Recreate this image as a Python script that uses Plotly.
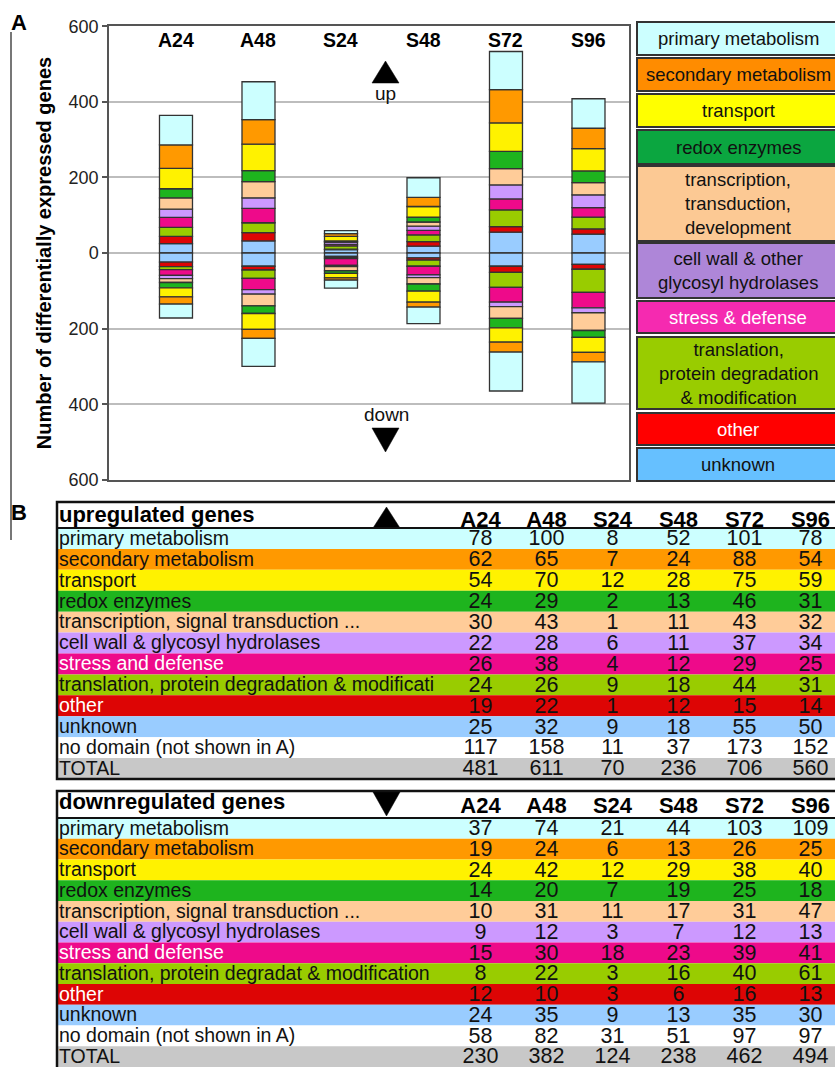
import plotly.graph_objects as go

W, H = 835, 1067
FONT = "Liberation Sans, Arial, Helvetica, sans-serif"

# ---------------- data ----------------
samples = ["A24", "A48", "S24", "S48", "S72", "S96"]

up_primary = [78, 100, 8, 52, 101, 78]
up_secondary = [62, 65, 7, 24, 88, 54]
up_transport = [54, 70, 12, 28, 75, 59]
up_redox = [24, 29, 2, 13, 46, 31]
up_transcription = [30, 43, 1, 11, 43, 32]
up_cellwall = [22, 28, 6, 11, 37, 34]
up_stress = [26, 38, 4, 12, 29, 25]
up_translation = [24, 26, 9, 18, 44, 31]
up_other = [19, 22, 1, 12, 15, 14]
up_unknown = [25, 32, 9, 18, 55, 50]
up_nodomain = [117, 158, 11, 37, 173, 152]
up_total = [481, 611, 70, 236, 706, 560]

down_primary = [37, 74, 21, 44, 103, 109]
down_secondary = [19, 24, 6, 13, 26, 25]
down_transport = [24, 42, 12, 29, 38, 40]
down_redox = [14, 20, 7, 19, 25, 18]
down_transcription = [10, 31, 11, 17, 31, 47]
down_cellwall = [9, 12, 3, 7, 12, 13]
down_stress = [15, 30, 18, 23, 39, 41]
down_translation = [8, 22, 3, 16, 40, 61]
down_other = [12, 10, 3, 6, 16, 13]
down_unknown = [24, 35, 9, 13, 35, 30]
down_nodomain = [58, 82, 31, 51, 97, 97]
down_total = [230, 382, 124, 238, 462, 494]

category_names = ["primary metabolism", "secondary metabolism", "transport",
                  "redox enzymes", "transcription, signal transduction",
                  "cell wall & glycosyl hydrolases", "stress and defense",
                  "translation, protein degradation & modification",
                  "other", "unknown"]

legend_labels = ["primary metabolism", "secondary metabolism", "transport",
                 "redox enzymes", "transcription,<br>transduction,<br>development",
                 "cell wall & other<br>glycosyl hydrolases", "stress & defense",
                 "translation,<br>protein degradation<br>& modification",
                 "other", "unknown"]

up_row_labels = ["primary metabolism", "secondary metabolism", "transport",
                 "redox enzymes", "transcription, signal transduction ...",
                 "cell wall & glycosyl hydrolases", "stress and defense",
                 "translation, protein degradation & modificati", "other",
                 "unknown", "no domain (not shown in A)", "TOTAL"]
down_row_labels = ["primary metabolism", "secondary metabolism", "transport",
                   "redox enzymes", "transcription, signal transduction ...",
                   "cell wall & glycosyl hydrolases", "stress and defense",
                   "translation, protein degradat & modification", "other",
                   "unknown", "no domain (not shown in A)", "TOTAL"]

up_values = [up_primary, up_secondary, up_transport, up_redox, up_transcription,
             up_cellwall, up_stress, up_translation, up_other, up_unknown]
down_values = [down_primary, down_secondary, down_transport, down_redox,
               down_transcription, down_cellwall, down_stress, down_translation,
               down_other, down_unknown]

# ---------------- styles ----------------
bar_colors = ["#CCFFFF", "#FF9900", "#FFF200", "#1EB41E", "#FFCC99",
              "#CC99FF", "#EE0A8A", "#99CC00", "#DD0505", "#99CCFF"]
legend_colors = ["#CCFFFF", "#FF8C00", "#FFFF00", "#0BA640", "#FCC994",
                 "#AE86D8", "#F52AB0", "#99CC00", "#FF0000", "#66C0FF"]
legend_text_colors = ["#111", "#111", "#111", "#111", "#111",
                      "#111", "#FFFFFF", "#111", "#FFFFFF", "#111"]
row_fills = bar_colors + ["#FFFFFF", "#C8C8C8"]
row_text_colors = legend_text_colors + ["#111", "#111"]

# legend box extents (top, bottom) in pixels
legend_boxes = [(22, 55), (58, 91), (94, 127), (130, 164), (166, 241),
                (243, 298), (301, 333), (337, 409), (413, 445), (448, 481)]

TEXT_DY = 0.07  # nudges table text slightly below the row centre


def px(x):
    return x / W


def py(y):
    return 1 - y / H


fig = go.Figure()
pos = list(range(len(samples)))

# ---------------- panel A: stacked up / down bars ----------------
for name, color, upv, dnv in reversed(list(zip(category_names, bar_colors,
                                                up_values, down_values))):
    style = dict(color=color, line=dict(color="#333333", width=1.3))
    fig.add_trace(go.Bar(x=pos, y=upv, name=name, marker=style, width=0.4,
                         xaxis="x", yaxis="y", hoverinfo="skip"))
    fig.add_trace(go.Bar(x=pos, y=[-v for v in dnv], name=name, marker=style,
                         width=0.4, xaxis="x", yaxis="y", hoverinfo="skip"))

# ---------------- panel B: tables ----------------
TX0, TX1 = -6.417, 5.371  # table x range in column units


def add_table(ax, labels, rows, title, title_y, head_y):
    xa, ya = "x" + ax, "y" + ax
    ridx = list(range(1, len(labels) + 1))
    tidx = [r + TEXT_DY for r in ridx]
    fig.add_trace(go.Bar(orientation="h", y=ridx, x=[TX1 - TX0 + 1] * len(ridx),
                         base=TX0, width=1,
                         marker=dict(color=row_fills, line=dict(width=0)),
                         xaxis=xa, yaxis=ya, hoverinfo="skip"))
    fig.add_trace(go.Scatter(x=[TX0 + 0.03] * len(ridx), y=tidx, text=labels,
                             mode="text", textposition="middle right",
                             textfont=dict(family=FONT, size=19.5,
                                           color=row_text_colors),
                             xaxis=xa, yaxis=ya, cliponaxis=False,
                             hoverinfo="skip"))
    xs, ys, ts = [], [], []
    for k in pos:
        for r, row in zip(tidx, rows):
            xs.append(k)
            ys.append(r)
            ts.append(str(row[k]))
    fig.add_trace(go.Scatter(x=xs, y=ys, text=ts, mode="text",
                             textposition="middle center",
                             textfont=dict(family=FONT, size=21.5, color="#111"),
                             xaxis=xa, yaxis=ya, cliponaxis=False,
                             hoverinfo="skip"))
    fig.add_trace(go.Scatter(x=pos, y=[head_y] * len(pos), text=samples,
                             mode="text", textposition="middle center",
                             textfont=dict(family=FONT, size=22, color="#000",
                                           weight="bold"),
                             xaxis=xa, yaxis=ya, cliponaxis=False,
                             hoverinfo="skip"))
    fig.add_trace(go.Scatter(x=[TX0 + 0.03], y=[title_y], text=[title],
                             mode="text", textposition="middle right",
                             textfont=dict(family=FONT, size=22, color="#000",
                                           weight="bold"),
                             xaxis=xa, yaxis=ya, cliponaxis=False,
                             hoverinfo="skip"))


add_table("2", up_row_labels, up_values + [up_nodomain, up_total],
          "upregulated genes", -0.07, 0.18)
add_table("3", down_row_labels, down_values + [down_nodomain, down_total],
          "downregulated genes", -0.22, 0.0)

hidden = dict(visible=False, fixedrange=True, automargin=False)

fig.update_layout(
    width=W, height=H,
    margin=dict(l=0, r=0, t=0, b=0, autoexpand=False),
    paper_bgcolor="white", plot_bgcolor="rgba(0,0,0,0)",
    showlegend=False, barmode="relative",
    font=dict(family=FONT, color="#111"),
    xaxis=dict(domain=[px(109), px(629)], range=[-0.812, 5.491],
               side="top", showticklabels=False, ticks="", automargin=False,
               showline=True, mirror=True, linecolor="#555", linewidth=1.5,
               showgrid=False, zeroline=False),
    yaxis=dict(domain=[py(480), py(26)], range=[-600.5, 600.5],
               tickvals=[-600, -400, -200, 0, 200, 400, 600],
               ticktext=["600", "400", "200", "0", "200", "400", "600"],
               tickfont=dict(family=FONT, size=18, color="#222"),
               ticks="outside", ticklen=5, tickcolor="#555", tickwidth=1.5,
               showline=True, mirror=True, linecolor="#555", linewidth=1.5,
               showgrid=True, gridcolor="#BDBDBD", gridwidth=1.5,
               zeroline=False, automargin=False,
               title=dict(text="Number of differentially expressed genes",
                          font=dict(family=FONT, size=20, color="#000",
                                    weight="bold"),
                          standoff=12)),
    xaxis2=dict(domain=[px(57), 1], range=[TX0, TX1], anchor="y2", **hidden),
    yaxis2=dict(domain=[py(779), py(502)], range=[12.5, -0.744], anchor="x2",
                **hidden),
    xaxis3=dict(domain=[px(57), 1], range=[TX0, TX1], anchor="y3", **hidden),
    yaxis3=dict(domain=[0, py(791)], range=[12.5, -0.8], anchor="x3", **hidden),
)

shapes = []
annotations = []

# sample names along the top of panel A
for k, s in zip(pos, samples):
    annotations.append(dict(xref="x", yref="paper", x=k, y=py(40), text=s,
                            showarrow=False, xanchor="center",
                            yanchor="middle",
                            font=dict(family=FONT, size=19.5, color="#000",
                                      weight="bold")))

# legend boxes for panel A
for (t, b), color, label, tcol in zip(legend_boxes, legend_colors,
                                      legend_labels, legend_text_colors):
    shapes.append(dict(type="rect", xref="paper", yref="paper",
                       x0=px(637), x1=px(842), y0=py(b), y1=py(t),
                       fillcolor=color, line=dict(color="#333", width=2),
                       layer="above"))
    annotations.append(dict(xref="paper", yref="paper", x=px(738),
                            y=py((t + b) / 2), text=label, showarrow=False,
                            xanchor="center", yanchor="middle",
                            font=dict(family=FONT, size=18.5, color=tcol)))


def triangle(x0, x1, y0, y1, up=True):
    xm = (x0 + x1) / 2
    if up:
        path = (f"M {px(x0)},{py(y1)} L {px(x1)},{py(y1)} "
                f"L {px(xm)},{py(y0)} Z")
    else:
        path = (f"M {px(x0)},{py(y0)} L {px(x1)},{py(y0)} "
                f"L {px(xm)},{py(y1)} Z")
    return dict(type="path", xref="paper", yref="paper", path=path,
                fillcolor="#000", line=dict(color="#000", width=0.5),
                layer="above")


shapes.append(triangle(372, 399, 61, 83, up=True))
shapes.append(triangle(372, 399, 428, 452, up=False))
shapes.append(triangle(373, 400, 507, 528, up=True))
shapes.append(triangle(373, 400, 792, 816, up=False))

annotations.append(dict(xref="paper", yref="paper", x=px(385.5), y=py(94),
                        text="up", showarrow=False, xanchor="center",
                        yanchor="middle",
                        font=dict(family=FONT, size=19, color="#111")))
annotations.append(dict(xref="paper", yref="paper", x=px(386.5), y=py(414),
                        text="down", showarrow=False, xanchor="center",
                        yanchor="middle",
                        font=dict(family=FONT, size=19, color="#111")))

# panel letters and side rule
annotations.append(dict(xref="paper", yref="paper", x=px(9), y=py(8),
                        text="A", showarrow=False, xanchor="left",
                        yanchor="top",
                        font=dict(family=FONT, size=22, color="#000",
                                  weight="bold")))
annotations.append(dict(xref="paper", yref="paper", x=px(9), y=py(498),
                        text="B", showarrow=False, xanchor="left",
                        yanchor="top",
                        font=dict(family=FONT, size=22, color="#000",
                                  weight="bold")))
shapes.append(dict(type="line", xref="paper", yref="paper",
                   x0=px(11), x1=px(11), y0=py(32), y1=py(540),
                   line=dict(color="#777", width=2)))

# table frames and header rules
for top, bottom, head in [(502, 779, 528), (791, 1075, 818)]:
    shapes.append(dict(type="rect", xref="paper", yref="paper",
                       x0=px(57), x1=px(845), y0=py(bottom), y1=py(top),
                       line=dict(color="#111", width=2.5), layer="above"))
    shapes.append(dict(type="line", xref="paper", yref="paper",
                       x0=px(57), x1=px(845), y0=py(head), y1=py(head),
                       line=dict(color="#111", width=2), layer="above"))

fig.update_layout(shapes=shapes, annotations=annotations)

fig.write_html("out.html")
